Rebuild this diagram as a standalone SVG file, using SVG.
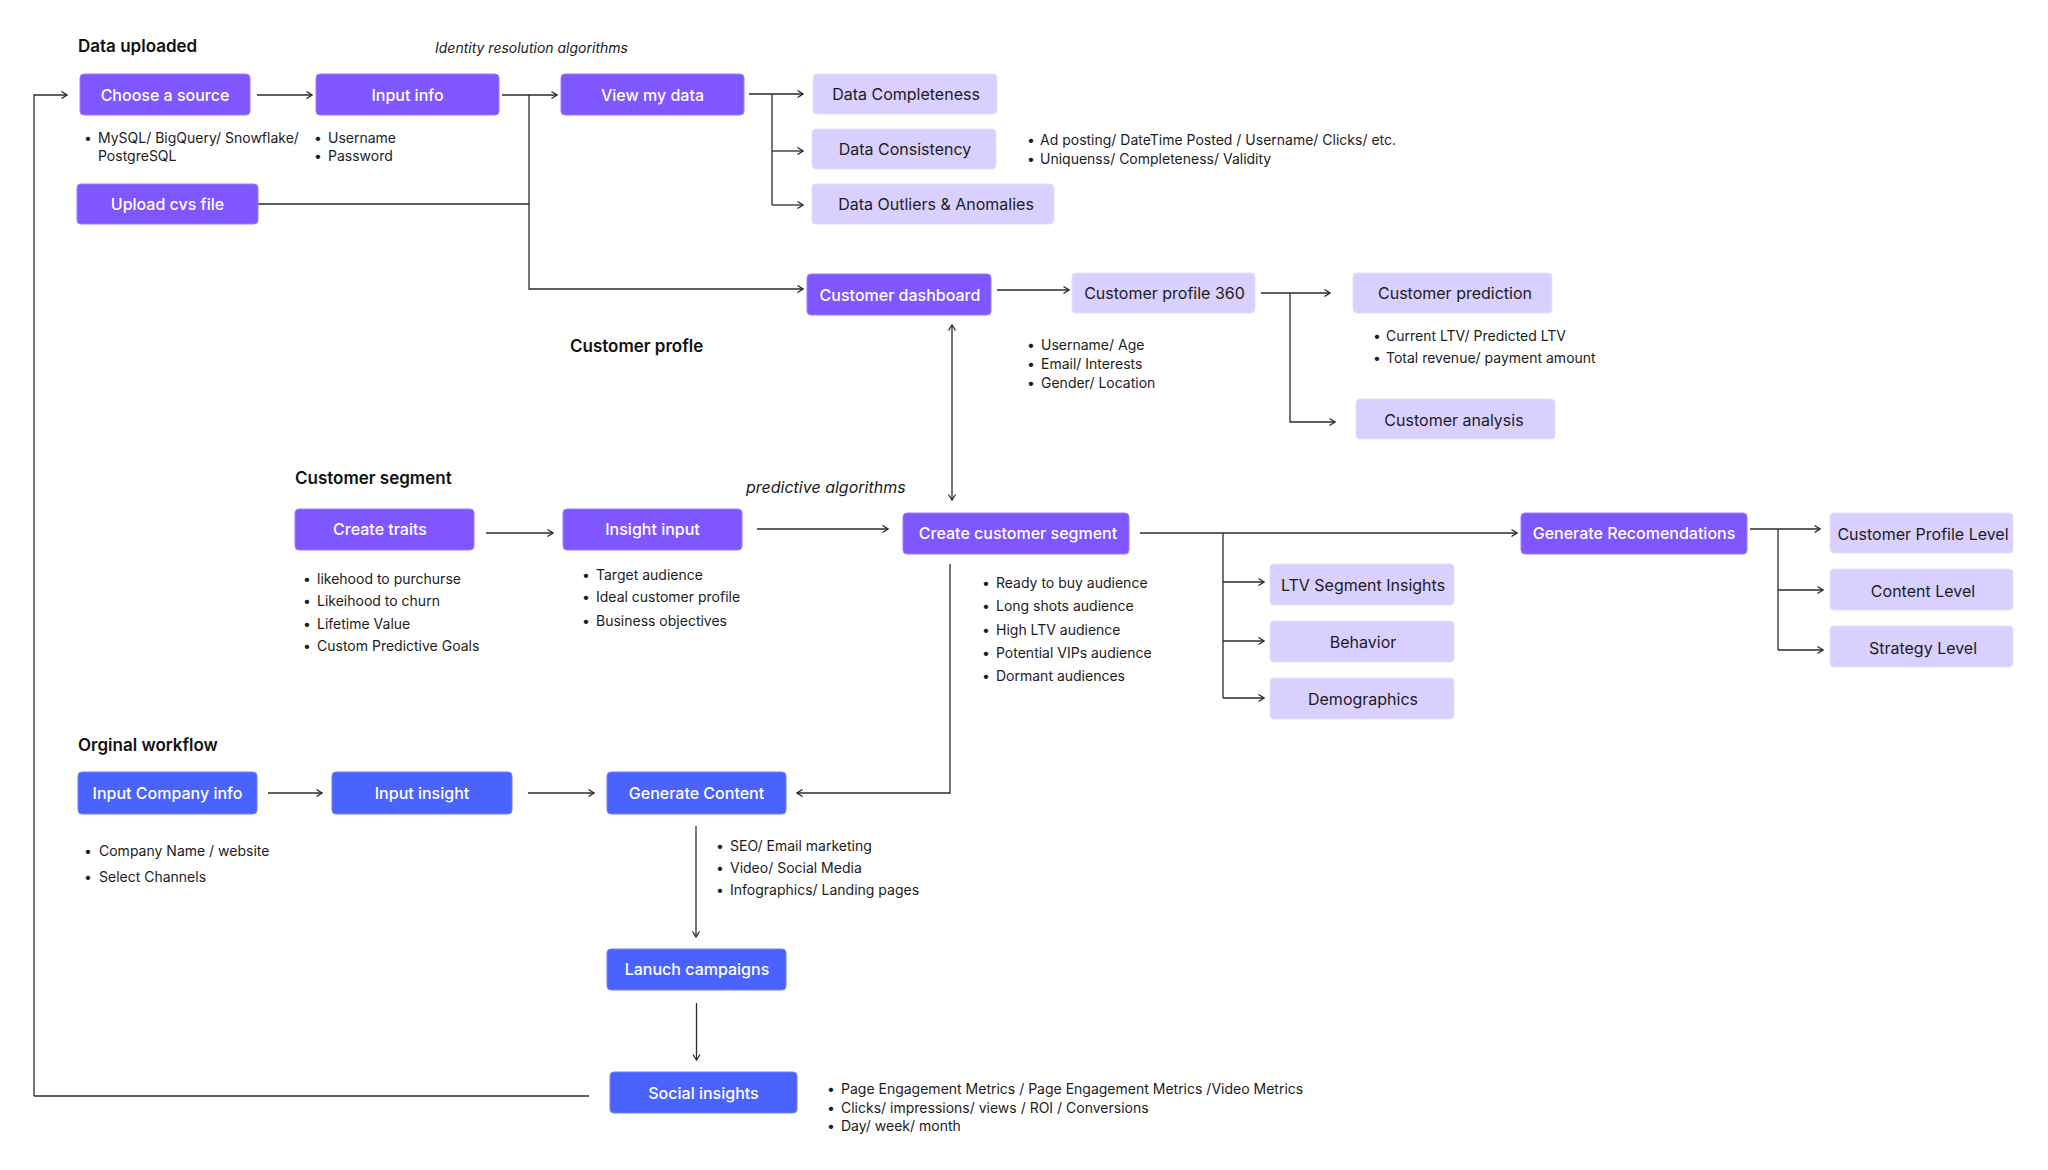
<svg xmlns="http://www.w3.org/2000/svg" width="2048" height="1170" viewBox="0 0 2048 1170">
<defs>
<marker id="ah" viewBox="0 0 8 10" refX="7" refY="5" markerWidth="8" markerHeight="10" markerUnits="userSpaceOnUse" orient="auto-start-reverse">
<path d="M1.5,1.5 L7,5 L1.5,8.5" fill="none" stroke="#2b2b2b" stroke-width="1.3"/>
</marker>
<style>
text{font-family:Inter,"Liberation Sans",sans-serif}
.p{fill:#7F56FF;stroke:#9A7CFF;stroke-width:1}
.l{fill:#D9D0FF;stroke:#E4DDFF;stroke-width:1}
.b{fill:#4A63FF;stroke:#6C80FF;stroke-width:1}
.tw{fill:#ffffff;font-size:16px;font-weight:500;text-anchor:middle;dominant-baseline:central}
.td{fill:#1c1c1c;font-size:16px;font-weight:400;text-anchor:middle;dominant-baseline:central}
.h{fill:#111;font-size:17px;font-weight:600}
.it{fill:#1c1c1c;font-style:italic}
.bl{fill:#1c1c1c;font-size:14px;dominant-baseline:central}
.c{fill:none;stroke:#2b2b2b;stroke-width:1.3}
.a{marker-end:url(#ah)}
.a2{marker-start:url(#ah);marker-end:url(#ah)}
</style>
</defs>
<rect width="2048" height="1170" fill="#ffffff"/>

<!-- section titles -->
<text class="h" x="78" y="52">Data uploaded</text>
<text class="it" x="435" y="53" font-size="14">Identity resolution algorithms</text>
<text class="h" x="570" y="352">Customer profle</text>
<text class="h" x="295" y="484">Customer segment</text>
<text class="it" x="746" y="493" font-size="16">predictive algorithms</text>
<text class="h" x="78" y="751">Orginal workflow</text>

<!-- connectors -->
<g id="connectors">
<path class="c a" d="M257,95 H312"/>
<path class="c a" d="M502,95 H557"/>
<path class="c a" d="M529,95 V289 H803"/>
<path class="c" d="M258,204 H529"/>
<path class="c a" d="M749,94 H803"/>
<path class="c" d="M772,94 V205"/>
<path class="c a" d="M772,151 H803"/>
<path class="c a" d="M772,205 H803"/>
<path class="c a" d="M997,290 H1069"/>
<path class="c a" d="M1261,293 H1330"/>
<path class="c a" d="M1290,293 V422 H1335"/>
<path class="c a2" d="M952,325 V500"/>
<path class="c a" d="M486,533 H553"/>
<path class="c a" d="M757,529 H888"/>
<path class="c a" d="M1140,533 H1517"/>
<path class="c" d="M1223,533 V698"/>
<path class="c a" d="M1223,582 H1264"/>
<path class="c a" d="M1223,641 H1264"/>
<path class="c a" d="M1223,698 H1264"/>
<path class="c a" d="M1750,529 H1820"/>
<path class="c" d="M1778,529 V650"/>
<path class="c a" d="M1778,590 H1823"/>
<path class="c a" d="M1778,650 H1823"/>
<path class="c a" d="M950,564 V793 H797"/>
<path class="c a" d="M268,793 H322"/>
<path class="c a" d="M528,793 H594"/>
<path class="c a" d="M696,826 V937"/>
<path class="c a" d="M696.5,1003 V1060"/>
<path class="c" d="M589,1096 H34" stroke="#5a5a5a" stroke-width="2"/>
<path class="c a" d="M34,1096 V95 H67"/>
</g>

<!-- Data uploaded nodes -->
<g id="choose-source"><rect class="p" x="80" y="74" width="170" height="41" rx="4"/><text class="tw" x="165" y="94.5">Choose a source</text></g>
<g id="input-info"><rect class="p" x="316" y="74" width="183" height="41" rx="4"/><text class="tw" x="407.5" y="94.5">Input info</text></g>
<g id="view-data"><rect class="p" x="561" y="74" width="183" height="41" rx="4"/><text class="tw" x="652.5" y="94.5">View my data</text></g>
<g id="upload-cvs"><rect class="p" x="77" y="184" width="181" height="40" rx="4"/><text class="tw" x="167.5" y="204">Upload cvs file</text></g>
<g id="data-completeness"><rect class="l" x="813" y="74" width="184" height="40" rx="4"/><text class="td" x="906" y="94">Data Completeness</text></g>
<g id="data-consistency"><rect class="l" x="812" y="129" width="184" height="40" rx="4"/><text class="td" x="905" y="149">Data Consistency</text></g>
<g id="data-outliers"><rect class="l" x="812" y="184" width="242" height="40" rx="4"/><text class="td" x="936" y="204">Data Outliers &amp; Anomalies</text></g>

<!-- Customer profile nodes -->
<g id="customer-dashboard"><rect class="p" x="807" y="274" width="184" height="41" rx="4"/><text class="tw" x="900" y="294.5">Customer dashboard</text></g>
<g id="customer-profile-360"><rect class="l" x="1072" y="273" width="183" height="40" rx="4"/><text class="td" x="1164.5" y="293">Customer profile 360</text></g>
<g id="customer-prediction"><rect class="l" x="1353" y="273" width="199" height="40" rx="4"/><text class="td" x="1455" y="293">Customer prediction</text></g>
<g id="customer-analysis"><rect class="l" x="1356" y="399" width="199" height="40" rx="4"/><text class="td" x="1454" y="420">Customer analysis</text></g>

<!-- Customer segment nodes -->
<g id="create-traits"><rect class="p" x="295" y="509" width="179" height="41" rx="4"/><text class="tw" x="380" y="528.5">Create traits</text></g>
<g id="insight-input"><rect class="p" x="563" y="509" width="179" height="41" rx="4"/><text class="tw" x="652.5" y="528.5">Insight input</text></g>
<g id="create-segment"><rect class="p" x="903" y="513" width="226" height="41" rx="4"/><text class="tw" x="1018" y="532.5">Create customer segment</text></g>
<g id="generate-recs"><rect class="p" x="1521" y="513" width="226" height="41" rx="4"/><text class="tw" x="1634" y="533">Generate Recomendations</text></g>
<g id="ltv-insights"><rect class="l" x="1270" y="564" width="184" height="41" rx="4"/><text class="td" x="1363" y="585">LTV Segment Insights</text></g>
<g id="behavior"><rect class="l" x="1270" y="621" width="184" height="41" rx="4"/><text class="td" x="1363" y="642">Behavior</text></g>
<g id="demographics"><rect class="l" x="1270" y="678" width="184" height="41" rx="4"/><text class="td" x="1363" y="699">Demographics</text></g>
<g id="profile-level"><rect class="l" x="1830" y="513" width="183" height="40" rx="4"/><text class="td" x="1923" y="534">Customer Profile Level</text></g>
<g id="content-level"><rect class="l" x="1830" y="569" width="183" height="41" rx="4"/><text class="td" x="1923" y="590.5">Content Level</text></g>
<g id="strategy-level"><rect class="l" x="1830" y="626" width="183" height="41" rx="4"/><text class="td" x="1923" y="647.5">Strategy Level</text></g>

<!-- Original workflow nodes -->
<g id="input-company"><rect class="b" x="78" y="772" width="179" height="42" rx="4"/><text class="tw" x="167.5" y="792.5">Input Company info</text></g>
<g id="input-insight"><rect class="b" x="332" y="772" width="180" height="42" rx="4"/><text class="tw" x="422" y="792.5">Input insight</text></g>
<g id="generate-content"><rect class="b" x="607" y="772" width="179" height="42" rx="4"/><text class="tw" x="696.5" y="792.5">Generate Content</text></g>
<g id="launch-campaigns"><rect class="b" x="607" y="949" width="179" height="41" rx="4"/><text class="tw" x="697" y="969">Lanuch campaigns</text></g>
<g id="social-insights"><rect class="b" x="610" y="1072" width="187" height="41" rx="4"/><text class="tw" x="703.5" y="1092.5">Social insights</text></g>

<!-- bullet notes -->
<g id="notes">
<text class="bl" y="137"><tspan x="84">•</tspan><tspan x="98">MySQL/ BigQuery/ Snowflake/</tspan></text>
<text class="bl" x="98" y="155">PostgreSQL</text>
<text class="bl" y="137"><tspan x="314">•</tspan><tspan x="328">Username</tspan></text>
<text class="bl" y="155"><tspan x="314">•</tspan><tspan x="328">Password</tspan></text>

<text class="bl" y="139"><tspan x="1027">•</tspan><tspan x="1040">Ad posting/ DateTime Posted / Username/ Clicks/ etc.</tspan></text>
<text class="bl" y="158"><tspan x="1027">•</tspan><tspan x="1040">Uniquenss/ Completeness/ Validity</tspan></text>

<text class="bl" y="344"><tspan x="1027">•</tspan><tspan x="1041">Username/ Age</tspan></text>
<text class="bl" y="363"><tspan x="1027">•</tspan><tspan x="1041">Email/ Interests</tspan></text>
<text class="bl" y="382"><tspan x="1027">•</tspan><tspan x="1041">Gender/ Location</tspan></text>

<text class="bl" y="335"><tspan x="1373">•</tspan><tspan x="1386">Current LTV/ Predicted LTV</tspan></text>
<text class="bl" y="357"><tspan x="1373">•</tspan><tspan x="1386">Total revenue/ payment amount</tspan></text>

<text class="bl" y="578"><tspan x="303">•</tspan><tspan x="317">likehood to purchurse</tspan></text>
<text class="bl" y="600"><tspan x="303">•</tspan><tspan x="317">Likeihood to churn</tspan></text>
<text class="bl" y="623"><tspan x="303">•</tspan><tspan x="317">Lifetime Value</tspan></text>
<text class="bl" y="645"><tspan x="303">•</tspan><tspan x="317">Custom Predictive Goals</tspan></text>

<text class="bl" y="574"><tspan x="582">•</tspan><tspan x="596">Target audience</tspan></text>
<text class="bl" y="596"><tspan x="582">•</tspan><tspan x="596">Ideal customer profile</tspan></text>
<text class="bl" y="620"><tspan x="582">•</tspan><tspan x="596">Business objectives</tspan></text>

<text class="bl" y="582"><tspan x="982">•</tspan><tspan x="996">Ready to buy audience</tspan></text>
<text class="bl" y="605"><tspan x="982">•</tspan><tspan x="996">Long shots audience</tspan></text>
<text class="bl" y="629"><tspan x="982">•</tspan><tspan x="996">High LTV audience</tspan></text>
<text class="bl" y="652"><tspan x="982">•</tspan><tspan x="996">Potential VIPs audience</tspan></text>
<text class="bl" y="675"><tspan x="982">•</tspan><tspan x="996">Dormant audiences</tspan></text>

<text class="bl" y="850"><tspan x="84">•</tspan><tspan x="99">Company Name / website</tspan></text>
<text class="bl" y="876"><tspan x="84">•</tspan><tspan x="99">Select Channels</tspan></text>

<text class="bl" y="845"><tspan x="716">•</tspan><tspan x="730">SEO/ Email marketing</tspan></text>
<text class="bl" y="867"><tspan x="716">•</tspan><tspan x="730">Video/ Social Media</tspan></text>
<text class="bl" y="889"><tspan x="716">•</tspan><tspan x="730">Infographics/ Landing pages</tspan></text>

<text class="bl" y="1088" font-size="13.5"><tspan x="827">•</tspan><tspan x="841">Page Engagement Metrics / Page Engagement Metrics /Video Metrics</tspan></text>
<text class="bl" y="1107" font-size="13.5"><tspan x="827">•</tspan><tspan x="841">Clicks/ impressions/ views / ROI / Conversions</tspan></text>
<text class="bl" y="1125" font-size="13.5"><tspan x="827">•</tspan><tspan x="841">Day/ week/ month</tspan></text>
</g>
</svg>
